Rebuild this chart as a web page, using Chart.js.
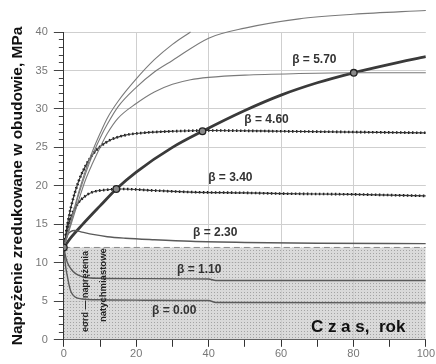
<!DOCTYPE html>
<html><head><meta charset="utf-8">
<script src="https://cdn.jsdelivr.net/npm/chart.js@4/dist/chart.umd.min.js"></script>
<style>html,body{margin:0;padding:0;background:#fff;overflow:hidden}#wrap{width:436px;height:364px;position:relative}</style>
</head><body><div id="wrap"><canvas id="c"></canvas></div>
<script>
// ---- data ----
const tA = [0,2,4,6,8,10,12,15,20,25,30,35];
const vA = [12,15.5,19,22,24.6,26.8,28.8,31,33.9,36.4,38.4,40];
const tB = [0,2,4,6,8,10,12,15,20,25,30,40,50,65,80,100];
const vB = [12,15.3,18.7,21.6,24.1,26.2,28,30.3,32.8,34.8,36.3,39.2,40.5,41.7,42.3,42.8];
const tC = [0,2,4,6,8,10,12,15,20,25,30,35,40,50,65,80,100];
const vC = [12,15,18,20.8,23,25,26.8,28.8,30.7,32.2,33.2,33.8,34.1,34.4,34.6,34.7,34.7];
const tRef = [0,2,5,10,14.5,20,30,38.3,50,60,70,80,90,100];
const vRef = [12,13.3,14.9,17.4,19.6,21.8,25,27.1,29.8,31.8,33.4,34.7,35.8,36.8];
const t460 = [0,1,2,4,6,8,10,13,17,22,30,40,60,80,100];
const v460 = [12,15,17.3,20.5,22.6,24.1,25.1,26,26.6,26.9,27.1,27.2,27.1,27,26.9];
const t340 = [0,1,2,4,6,8,12,16,25,35,50,60,80,100];
const v340 = [12,14.5,16,17.8,18.7,19.2,19.5,19.6,19.4,19.2,19.1,19,18.9,18.7];
const t230 = [0,1,2,3,5,8,12,17,25,35,50,70,100];
const v230 = [12,13.6,14.1,14.2,14,13.7,13.4,13.2,13,12.8,12.65,12.55,12.5];
const t110 = [0,0.5,1,2,3,4,6,10,20,40,42,60,100];
const v110 = [12,10.8,10,9.2,8.7,8.4,8.1,8,7.95,7.9,7.7,7.7,7.7];
const t000 = [0,0.5,1,1.5,2,3,5,10,20,40,42,100];
const v000 = [12,9.5,8.2,7,6.2,5.6,5.3,5.2,5.15,5.1,4.85,4.8];
const tShade = [0,100];
const vShade = [12,12];
const tMark = [0,14.5,38.3,80.1];
const vMark = [12,19.6,27.1,34.7];
const betaLabels = ['β = 5.70','β = 4.60','β = 3.40','β = 2.30','β = 1.10','β = 0.00'];
const yTitle = 'Naprężenie zredukowane w obudowie, MPa';
const xTitle = 'C z a s,  rok';
const noteLines = ['eσrd — naprężenia','natychmiastowe'];

const pts = (t,v) => t.map((x,i)=>({x, y:v[i]}));

// dotted pattern for the shaded zone
const pc = document.createElement('canvas'); pc.width = 3; pc.height = 3;
const pg = pc.getContext('2d');
pg.fillStyle = 'rgba(205,205,205,0.75)'; pg.fillRect(0,0,3,3);
pg.fillStyle = 'rgba(150,150,150,0.8)'; pg.fillRect(1,1,1,1);
const pattern = pg.createPattern(pc,'repeat');

const thin = {borderColor:'#7a7a7a', borderWidth:1.1, pointRadius:0, cubicInterpolationMode:'monotone', clip:false, fill:false};
const mid = {borderColor:'#5a5a5a', borderWidth:1.4, pointRadius:0, cubicInterpolationMode:'monotone', fill:false};

const labelPlugin = {
  id:'labels',
  afterDatasetsDraw(chart){
    const {ctx, scales:{x,y}} = chart;
    ctx.save();
    ctx.fillStyle = '#333';
    ctx.font = 'bold 12px "Liberation Sans", Arial, sans-serif';
    ctx.textAlign = 'center'; ctx.textBaseline = 'middle';
    const pos = [[69.2,36.4],[56,28.6],[46,21.1],[41.8,13.9],[37.4,9.1],[30.5,3.8]];
    betaLabels.forEach((s,i)=>ctx.fillText(s, x.getPixelForValue(pos[i][0]), y.getPixelForValue(pos[i][1])));
    ctx.fillStyle = '#111';
    ctx.font = 'bold 17px "Liberation Sans", Arial, sans-serif';
    ctx.fillText(xTitle, x.getPixelForValue(81.3), y.getPixelForValue(1.6));
    ctx.fillStyle = '#222';
    ctx.textAlign = 'left';
    const nx = [6.0, 10.8], ny = [1.0, 2.3], ns = [9, 9.5];
    noteLines.forEach((s,i)=>{
      ctx.save();
      ctx.font = 'bold ' + ns[i] + 'px "Liberation Sans", Arial, sans-serif';
      ctx.translate(x.getPixelForValue(nx[i]), y.getPixelForValue(ny[i]));
      ctx.rotate(-Math.PI/2);
      ctx.fillText(s,0,0);
      ctx.restore();
    });
    ctx.restore();
  }
};

new Chart(document.getElementById('c'), {
  type:'line',
  data:{datasets:[
    {data:pts(tShade,vShade), borderColor:'#8a8a8a', borderWidth:1, borderDash:[6,4], pointRadius:0, fill:'origin', backgroundColor:pattern, tension:0, order:10},
    {...thin, data:pts(tA,vA)},
    {...thin, data:pts(tB,vB)},
    {...thin, data:pts(tC,vC)},
    {...mid, data:pts(t230,v230)},
    {...mid, data:pts(t110,v110)},
    {...mid, data:pts(t000,v000)},
    {data:pts(t340,v340), borderColor:'#333', borderWidth:1.2, pointRadius:0, cubicInterpolationMode:'monotone', fill:false},
    {data:pts(t340,v340), borderColor:'#111', borderWidth:2.6, borderDash:[1.5,2.5], pointRadius:0, cubicInterpolationMode:'monotone', fill:false},
    {data:pts(t460,v460), borderColor:'#333', borderWidth:1.2, pointRadius:0, cubicInterpolationMode:'monotone', fill:false},
    {data:pts(t460,v460), borderColor:'#111', borderWidth:2.6, borderDash:[1.5,2.5], pointRadius:0, cubicInterpolationMode:'monotone', fill:false},
    {data:pts(tRef,vRef), borderColor:'#3a3a3a', borderWidth:2.8, pointRadius:0, cubicInterpolationMode:'monotone', fill:false},
    {data:pts(tMark,vMark), showLine:false, pointRadius:3.3, pointBackgroundColor:'#8a8a8a', pointBorderColor:'#222', pointBorderWidth:1.3, order:-1}
  ]},
  options:{
    responsive:true, maintainAspectRatio:false, animation:false,
    layout:{padding:{left:6, top:32, right:0, bottom:2}},
    plugins:{legend:{display:false}, tooltip:{enabled:false}},
    scales:{
      x:{type:'linear', min:0, max:100,
        ticks:{stepSize:10, autoSkip:false, maxRotation:0, padding:1, color:'#777', font:{family:'"Liberation Sans", Arial, sans-serif', size:11},
          callback:v=> v%20===0 ? v : ''},
        grid:{color:c=> (c.tick && c.tick.value%20===0 && c.tick.value>0 && c.tick.value<100) ? '#cfcfcf' : 'rgba(0,0,0,0)', tickColor:'#333', tickLength:7, lineWidth:1},
        border:{color:'#333', width:1}
      },
      y:{min:0, max:40,
        ticks:{stepSize:1, autoSkip:false, padding:6, color:'#777', font:{family:'"Liberation Sans", Arial, sans-serif', size:11},
          callback:v=> v%5===0 ? v : ''},
        grid:{color:c=> (c.tick && c.tick.value%5===0 && c.tick.value>0) ? '#cfcfcf' : 'rgba(0,0,0,0)', tickColor:'#444', tickLength:10,
          tickBorderDash:c=> (c.tick && c.tick.value%5===0) ? [] : [5,5], tickBorderDashOffset:c=> (c.tick && c.tick.value%5===0) ? 0 : 5},
        border:{color:'#333', width:1},
        title:{display:true, text:yTitle, color:'#111', padding:{top:2,bottom:3}, font:{family:'"Liberation Sans", Arial, sans-serif', size:15.5, weight:'bold'}}
      }
    }
  },
  plugins:[labelPlugin]
});
</script></body></html>
